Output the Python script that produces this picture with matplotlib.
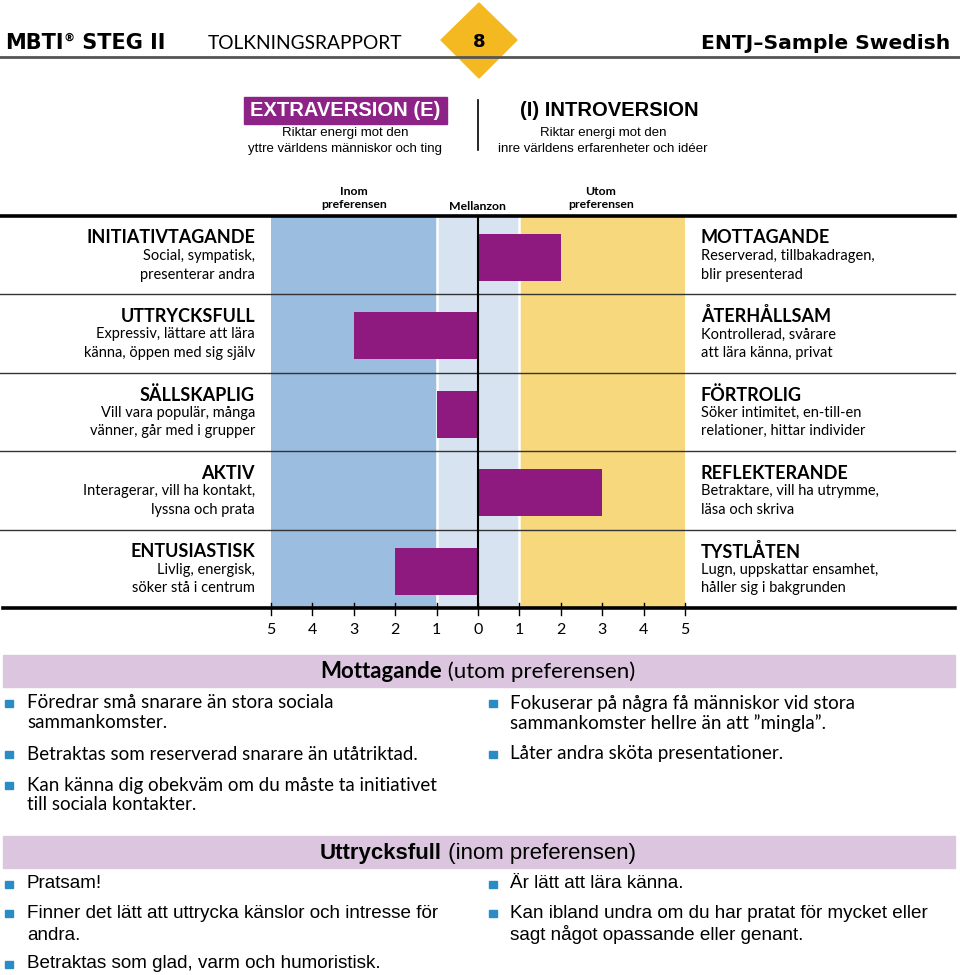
import matplotlib
matplotlib.use('Agg')
import matplotlib.pyplot as plt
from matplotlib.patches import Rectangle, Polygon
from matplotlib import font_manager

# Data
left_titles = ['INITIATIVTAGANDE', 'UTTRYCKSFULL', 'SÄLLSKAPLIG', 'AKTIV', 'ENTUSIASTISK']
left_desc = [['Social, sympatisk,', 'presenterar andra'],
             ['Expressiv, lättare att lära', 'känna, öppen med sig själv'],
             ['Vill vara populär, många', 'vänner, går med i grupper'],
             ['Interagerar, vill ha kontakt,', 'lyssna och prata'],
             ['Livlig, energisk,', 'söker stå i centrum']]
right_titles = ['MOTTAGANDE', 'ÅTERHÅLLSAM', 'FÖRTROLIG', 'REFLEKTERANDE', 'TYSTLÅTEN']
right_desc = [['Reserverad, tillbakadragen,', 'blir presenterad'],
              ['Kontrollerad, svårare', 'att lära känna, privat'],
              ['Söker intimitet, en-till-en', 'relationer, hittar individer'],
              ['Betraktare, vill ha utrymme,', 'läsa och skriva'],
              ['Lugn, uppskattar ensamhet,', 'håller sig i bakgrunden']]
# negative = toward E side (left), positive = toward I side (right)
scores = [2, -3, -1, 3, -2]
tick_pos = [-5, -4, -3, -2, -1, 0, 1, 2, 3, 4, 5]
tick_labels = ['5', '4', '3', '2', '1', '0', '1', '2', '3', '4', '5']
zone_labels = ['Inom\npreferensen', 'Mellanzon', 'Utom\npreferensen']

sec1_title = ('Mottagande', ' (utom preferensen)')
sec1_left = [['Föredrar små snarare än stora sociala', 'sammankomster.'],
             ['Betraktas som reserverad snarare än utåtriktad.'],
             ['Kan känna dig obekväm om du måste ta initiativet', 'till sociala kontakter.']]
sec1_right = [['Fokuserar på några få människor vid stora', 'sammankomster hellre än att \u201dmingla\u201d.'],
              ['Låter andra sköta presentationer.']]
sec2_title = ('Uttrycksfull', ' (inom preferensen)')
sec2_left = [['Pratsam!'],
             ['Finner det lätt att uttrycka känslor och intresse för', 'andra.'],
             ['Betraktas som glad, varm och humoristisk.']]
sec2_right = [['Är lätt att lära känna.'],
              ['Kan ibland undra om du har pratat för mycket eller', 'sagt något opassande eller genant.']]

PURPLE = '#8E1A80'
BLUE = '#9BBDDF'
LIGHT = '#D8E3F1'
YELLOW = '#F8D87C'
MAUVE = '#DCC6DF'
BULLET = '#2A8CC4'
DIAMOND = '#F4B820'

names = {f.name for f in font_manager.fontManager.ttflist}
NARROW = 'Liberation Sans Narrow' if 'Liberation Sans Narrow' in names else 'Liberation Sans'
BODY = 'Lato'
HEAVY = 'DejaVu Sans'

W, H = 960, 975
fig = plt.figure(figsize=(W / 100, H / 100), dpi=100)
renderer = fig.canvas.get_renderer()


def fx(px):
    return px / W


def fy(py):
    return 1 - py / H


def ftext(x, y, s, **kw):
    return fig.text(fx(x), fy(y), s, **kw)


def run_text(x, y, pieces, ha='left'):
    """Place text pieces side by side; x is left, centre or right of the run."""
    arts = [fig.text(0, fy(y), s, va='baseline', **kw) for s, kw in pieces]
    widths = [a.get_window_extent(renderer).width for a in arts]
    total = sum(widths)
    start = {'left': x, 'center': x - total / 2, 'right': x - total}[ha]
    for a, w in zip(arts, widths):
        a.set_x(fx(start))
        start += w
    return arts


def fline(x0, x1, y0, y1, **kw):
    fig.add_artist(plt.Line2D([fx(x0), fx(x1)], [fy(y0), fy(y1)], transform=fig.transFigure, **kw))


# ---- header ----
fline(0, 960, 57, 57, color='#555555', lw=2)
fig.add_artist(Polygon([[fx(479), fy(3)], [fx(517), fy(40)], [fx(479), fy(78)], [fx(441), fy(40)]],
                       closed=True, color=DIAMOND, transform=fig.transFigure))
ftext(479, 42, '8', ha='center', va='center', fontsize=13, weight='bold', family=HEAVY)
hdr = run_text(5, 49, [('MBTI', dict(fontsize=15, weight='bold', family=HEAVY)),
                       ('®', dict(fontsize=8, weight='bold', family=HEAVY)),
                       (' STEG II', dict(fontsize=15, weight='bold', family=HEAVY))])
hdr[1].set_y(fy(41))  # superscript
ftext(208, 49, 'TOLKNINGSRAPPORT', ha='left', va='baseline', fontsize=13.8, family=BODY)
ftext(950, 49, 'ENTJ\u2013Sample Swedish', ha='right', va='baseline', fontsize=14.6, weight='bold',
      family=HEAVY)

# ---- dimension heading ----
fig.add_artist(Rectangle((fx(244), fy(124)), fx(447) - fx(244), (124 - 97) / H,
                         color='#8E2387', transform=fig.transFigure))
ftext(345, 111, 'EXTRAVERSION (E)', ha='center', va='center', color='white', fontsize=14.5,
      weight='bold', family=NARROW)
ftext(345, 133, 'Riktar energi mot den', ha='center', va='center', fontsize=9.5, family=NARROW)
ftext(345, 149, 'yttre världens människor och ting', ha='center', va='center', fontsize=9.5, family=NARROW)
fline(478, 478, 100, 150, color='black', lw=1.2)
ftext(609, 111, '(I) INTROVERSION', ha='center', va='center', fontsize=14.5, weight='bold', family=NARROW)
ftext(603, 133, 'Riktar energi mot den', ha='center', va='center', fontsize=9.5, family=NARROW)
ftext(603, 149, 'inre världens erfarenheter och idéer', ha='center', va='center', fontsize=9.5, family=NARROW)

# ---- zone labels ----
for lbl, x, y in zip(zone_labels, [354, 477, 601], [198, 206, 198]):
    ftext(x, y, lbl, ha='center', va='center', fontsize=8.8, weight='bold', family=BODY, linespacing=1.15)

# ---- chart ----
top, bottom = 216, 608
ax = fig.add_axes([fx(271), fy(bottom), fx(685) - fx(271), (bottom - top) / H])
n = len(scores)
ax.set_xlim(-5, 5)
ax.set_ylim(n, 0)
ax.axis('off')
ax.axvspan(-5, -1, color=BLUE, zorder=0, lw=0)
ax.axvspan(-1, 1, color=LIGHT, zorder=0, lw=0)
ax.axvspan(1, 5, color=YELLOW, zorder=0, lw=0)
for xv in (-1, 1):
    ax.axvline(xv, color='white', lw=1.8, zorder=1)
xa0, xa1 = (0 - 271) / 414, (955 - 271) / 414
tr = ax.get_yaxis_transform()
for i in range(1, n):
    ax.plot([xa0, xa1], [i, i], transform=tr, color='#333333', lw=1, clip_on=False, zorder=1)
ax.plot([xa0, xa1], [0, 0], transform=tr, color='black', lw=2.6, clip_on=False, zorder=4)
ax.plot([(3 - 271) / 414, xa1], [n, n], transform=tr, color='black', lw=2.6, clip_on=False, zorder=4)
ax.barh([i + 0.53 for i in range(n)], scores, height=0.6, left=0, color=PURPLE, zorder=2)
ax.axvline(0, color='black', lw=1.5, zorder=3)
for t, lbl in zip(tick_pos, tick_labels):
    ax.plot([t, t], [n - 0.07, n + 0.09], color='black', lw=1, clip_on=False, zorder=4)
    ax.text(t, n + 0.28, lbl, ha='center', va='center', fontsize=11.5, family=BODY)

# ---- row labels ----
row_h = (bottom - top) / n
for i in range(n):
    y0 = top + i * row_h
    ftext(255, y0 + 22, left_titles[i], ha='right', va='center', fontsize=13, weight='bold', family=BODY)
    ftext(701, y0 + 22, right_titles[i], ha='left', va='center', fontsize=13, weight='bold', family=BODY)
    for j in range(2):
        ftext(255, y0 + 40 + 18.5 * j, left_desc[i][j], ha='right', va='center', fontsize=10.5, family=BODY)
        ftext(701, y0 + 40 + 18.5 * j, right_desc[i][j], ha='left', va='center', fontsize=10.5, family=BODY)


# ---- comment sections ----
def section(y_band, title, left_items, right_items, family, size, line_h, item_gap):
    fig.add_artist(Rectangle((fx(3), fy(y_band + 32)), fx(955) - fx(3), 32 / H, color=MAUVE,
                             transform=fig.transFigure))
    run_text(478, y_band + 23, [(title[0], dict(fontsize=16, weight='bold', family=family)),
                                (title[1], dict(fontsize=16, family=family))], ha='center')
    for items, xb, xt in ((left_items, 5, 27), (right_items, 489, 510)):
        y = y_band + 48
        for lines in items:
            fig.add_artist(Rectangle((fx(xb), fy(y + 4)), fx(7.5), 7.5 / H, color=BULLET,
                                     transform=fig.transFigure))
            for k, s in enumerate(lines):
                ftext(xt, y + k * line_h, s, ha='left', va='center', fontsize=size, family=family)
            y += len(lines) * line_h + item_gap


section(655, sec1_title, sec1_left, sec1_right, BODY, 13.5, 20, 11)
section(836, sec2_title, sec2_left, sec2_right, NARROW, 13.6, 22, 7)

fig.savefig('out.png', dpi=100)
